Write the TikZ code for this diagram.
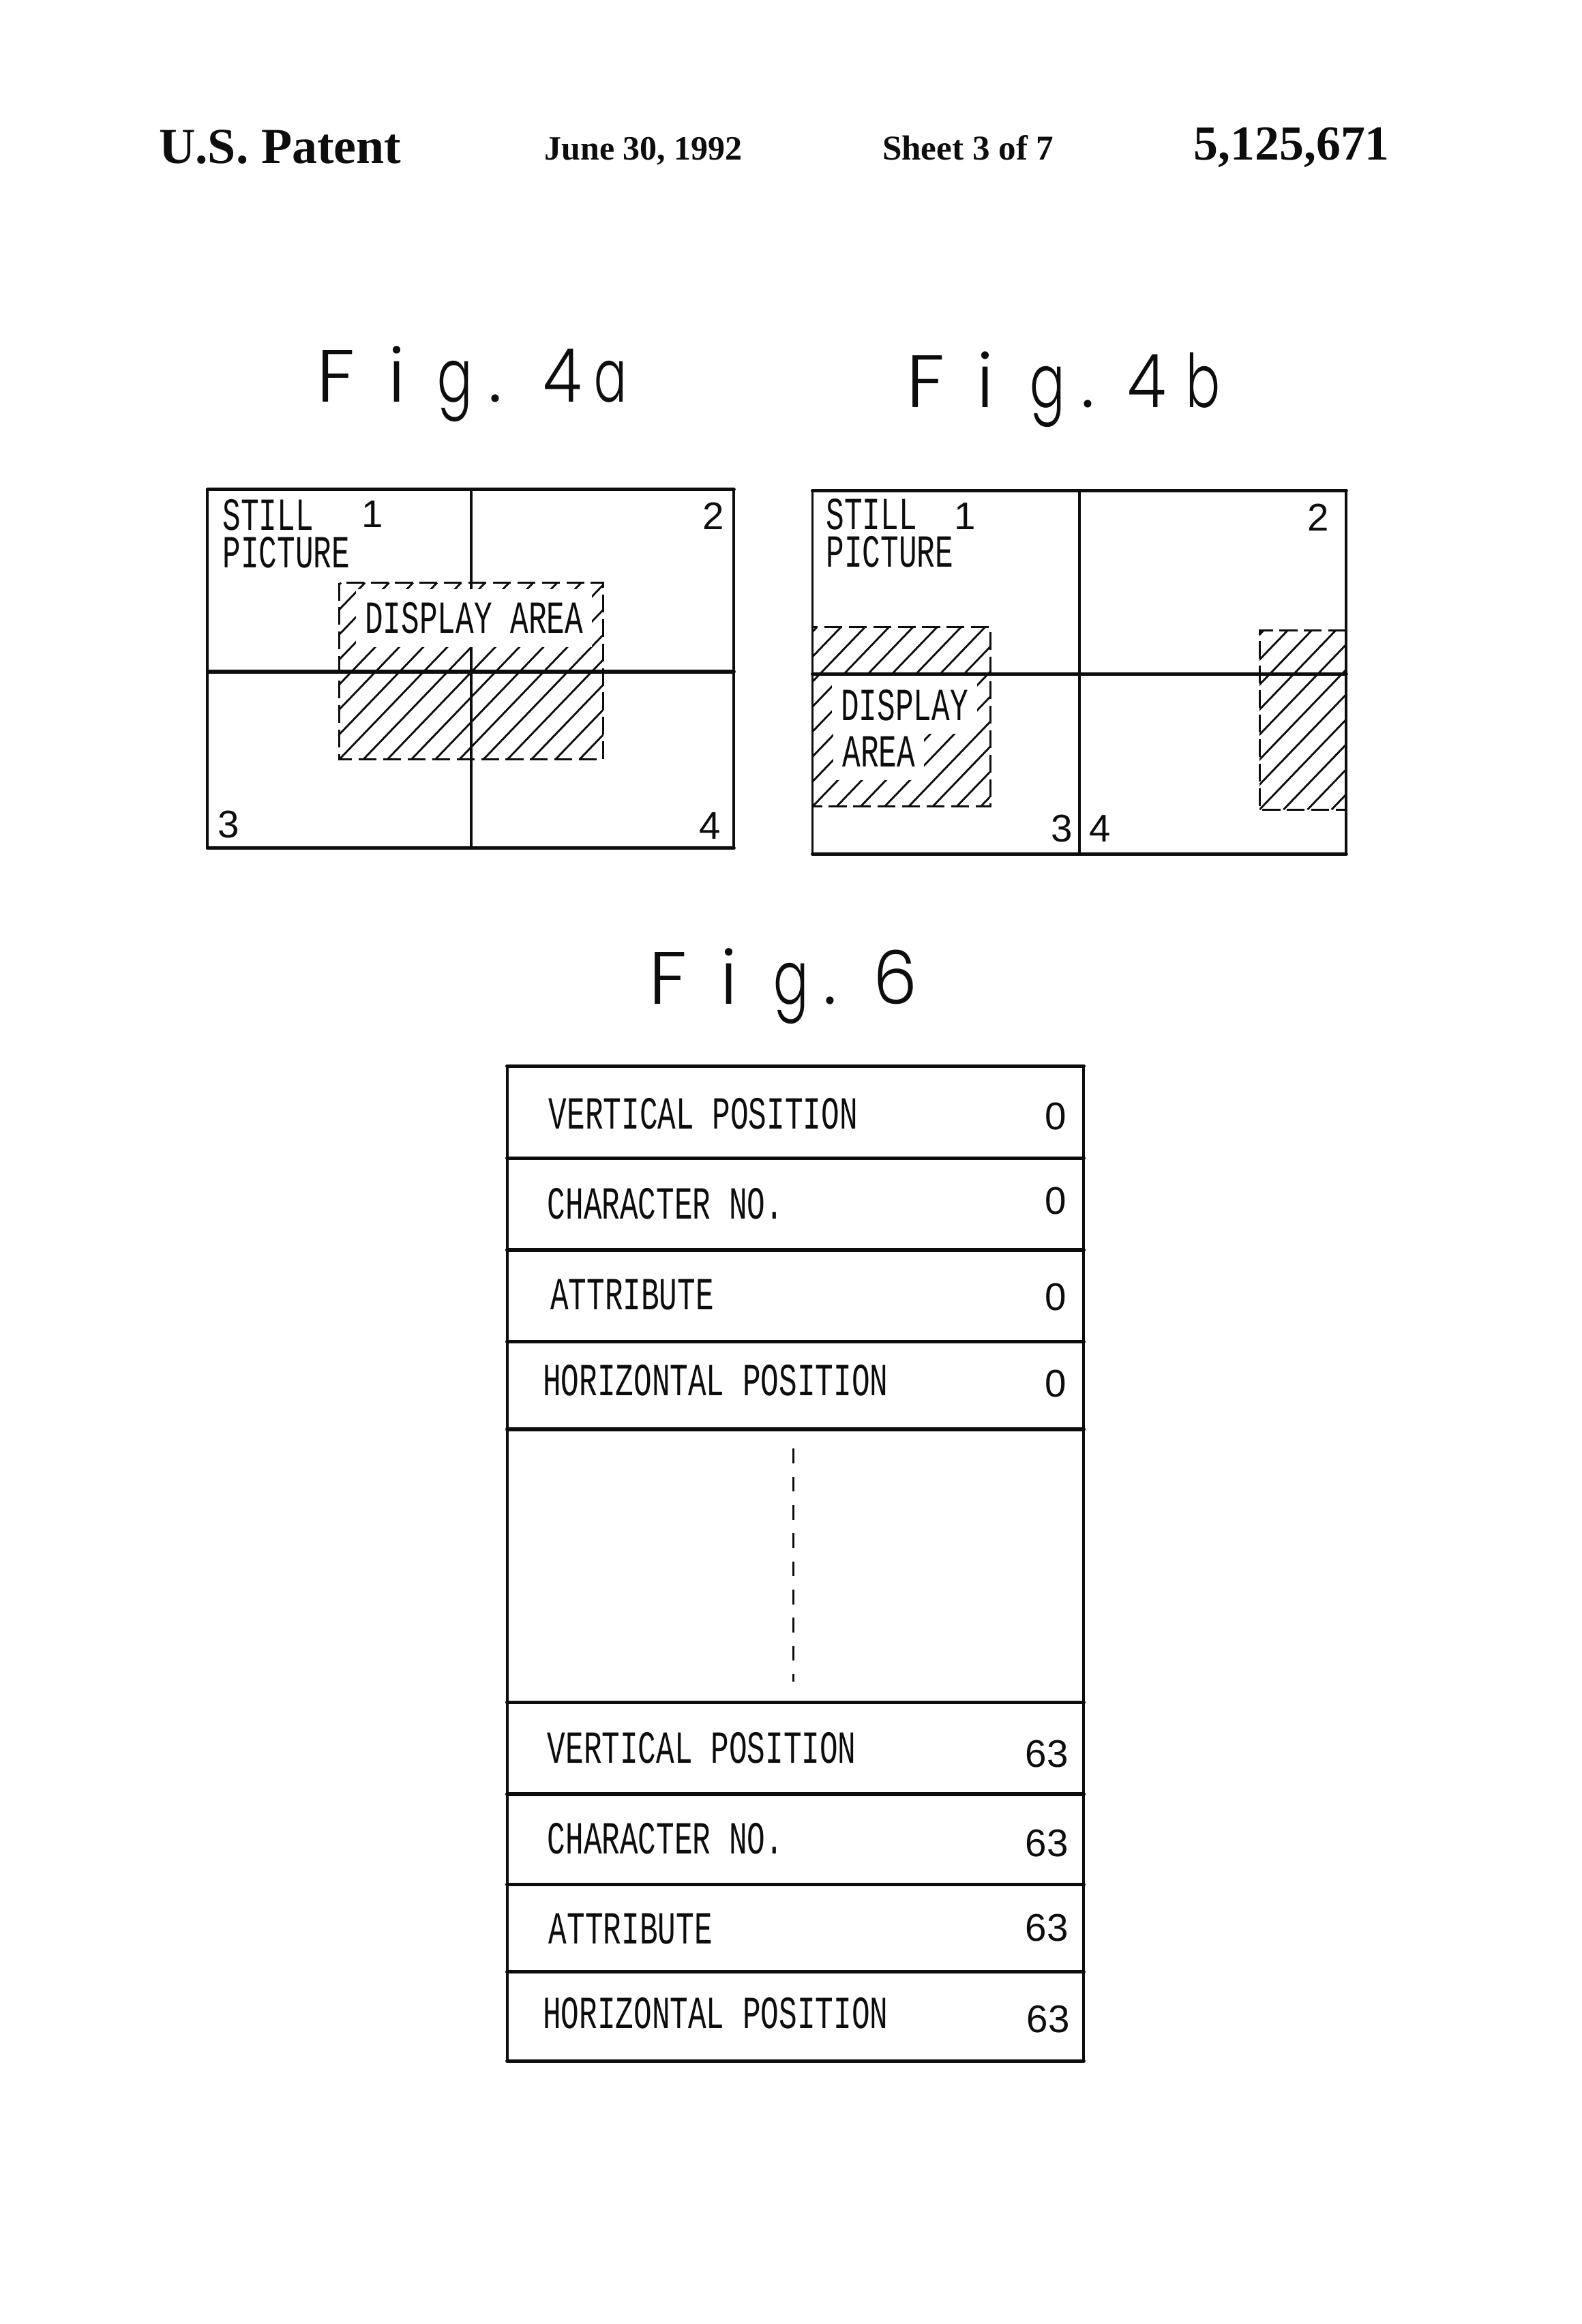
\documentclass[tikz,border=0pt]{standalone}
\usepackage{fontspec}
\setmainfont{Liberation Serif}
\newfontfamily\lettering[FakeStretch=0.6586]{Liberation Mono}
\newfontfamily\figfont[UprightFont={* Light}]{Poppins}
\newfontfamily\numfont{Liberation Sans}
\definecolor{inkc}{gray}{0.05}
\tikzset{
  x=1pt,y=-1pt,
  outer/.style={line width=2.4pt,line cap=round,line join=round,color=inkc},
  inner/.style={line width=1.8pt,line cap=round,line join=round,color=inkc},
  hatchln/.style={line width=1.3pt,color=inkc},
  dashbox/.style={line width=1.4pt,color=inkc,dash pattern=on 12pt off 4.5pt},
  lab/.style={font=\lettering\fontsize{31}{31}\selectfont,anchor=west,inner sep=0pt,color=inkc},
  twolab/.style={font=\lettering\fontsize{31}{25.5}\selectfont,anchor=west,align=left,inner sep=0pt,color=inkc},
  masklab/.style={lab,fill=white,inner xsep=6pt,inner ysep=9pt},
  num/.style={font=\numfont\fontsize{26}{26}\selectfont,inner sep=0pt,color=inkc},
  figt/.style={font=\figfont\fontsize{50}{50}\selectfont,anchor=base west,inner sep=0pt,color=inkc},
  hdr/.style={anchor=base west,inner sep=0pt,color=inkc,font=\bfseries\fontsize{#1}{#1}\selectfont},
}
\newcommand{\fch}[3]{\rlap{\hspace{#1pt}\makebox[0pt]{\scalebox{#2}[1]{#3}}}}
\newcommand{\hatchbox}[4]{%
  \begin{scope}
    \clip (#1,#2) rectangle (#3,#4);
    \foreach \i in {-12,...,16} {
      \draw[hatchln] ({#1+\i*16.2},#4) -- ({#1+\i*16.2+(#4-#2)/1.04},#2);
    }
  \end{scope}
}
\begin{document}
\begin{tikzpicture}
\useasboundingbox[fill=white] (0,0) rectangle (1067,1567.4);

% header
\node[hdr=34] (h1) at (107,110) {U.S. Patent};
\node[hdr=23] (h2) at (367,108) {June 30, 1992};
\node[hdr=23.5] (h3) at (595,108) {Sheet 3 of 7};
\node[hdr=33] (h4) at (805,108) {5,125,671};

% figure titles
\node[figt] (t4a) at (226,271) {\fch{0}{1.05}{F}\fch{41}{1}{i}\fch{80}{.7}{g}\fch{107.6}{1}{.}\fch{152.5}{.85}{4}\fch{185}{.65}{a}};
\node[figt] (t4b) at (623.5,275) {\fch{0}{1.05}{F}\fch{40.5}{1}{i}\fch{82.5}{.7}{g}\fch{109.5}{1}{.}\fch{149.5}{.85}{4}\fch{187.5}{.68}{b}};
\node[figt] (t6) at (450,677) {\fch{0}{1.05}{F}\fch{41}{1}{i}\fch{83}{.7}{g}\fch{109}{1}{.}\fch{153}{.95}{6}};

% Fig 4a
\hatchbox{229}{393}{407}{512}
\draw[dashbox] (229,393) rectangle (407,512);
\draw[inner] (140,330) rectangle (495,572);
\draw[outer] (140,330) -- (495,330) (140,572) -- (495,572);
\draw[inner] (318,330) -- (318,572);
\draw[outer] (140,453) -- (495,453);
\node[masklab] (a5) at (240,417) {DISPLAY AREA};
\node[twolab] (a1) at (150,360) {STILL\\PICTURE};
\node[num] (a3) at (251,347) {1};
\node[num] (a4) at (481,348) {2};
\node[num] (a6) at (154,556) {3};
\node[num] (a7) at (479,557) {4};

% Fig 4b
\hatchbox{548}{423}{668}{544}
\draw[dashbox] (548,423) rectangle (668,544);
\hatchbox{849.5}{425}{908}{546}
\draw[dashbox] (908,425) -- (849.5,425) -- (849.5,546) -- (908,546);
\draw[inner] (548,331) rectangle (908,576);
\draw[outer] (548,331) -- (908,331) (548,576) -- (908,576);
\draw[inner] (728,331) -- (728,576);
\draw[outer] (548,454.5) -- (908,454.5);
\node[masklab] (b5) at (561,475.5) {DISPLAY};
\node[masklab] (b6) at (562,507) {AREA};
\node[twolab] (b1) at (557,359.5) {STILL\\PICTURE};
\node[num] (b3) at (651,348) {1};
\node[num] (b4) at (889,349) {2};
\node[num] (b7) at (716,559) {3};
\node[num] (b8) at (742,559) {4};

% Fig 6
\draw[inner] (342,719) rectangle (731,1390);
\draw[outer] (342,719) -- (731,719) (342,1390) -- (731,1390);
\foreach \y in {781,843,905,964,1148,1210,1271,1330} {
  \draw[outer] (342,\y) -- (731,\y);
}
\draw[hatchln,dash pattern=on 10pt off 9pt] (535,977) -- (535,1134);
\node[lab] (c1) at (370,751) {VERTICAL POSITION};
\node[lab] (c2) at (369,812) {CHARACTER NO.};
\node[lab] (c3) at (371,873) {ATTRIBUTE};
\node[lab] (c4) at (366,931) {HORIZONTAL POSITION};
\node[lab] (c5) at (369,1179) {VERTICAL POSITION};
\node[lab] (c6) at (369,1240) {CHARACTER NO.};
\node[lab] (c7) at (370,1301) {ATTRIBUTE};
\node[lab] (c8) at (366,1358) {HORIZONTAL POSITION};
\node[num] (n1) at (712,753) {0};
\node[num] (n2) at (712,810) {0};
\node[num] (n3) at (712,875) {0};
\node[num] (n4) at (712,933) {0};
\node[num] (n5) at (706,1183) {63};
\node[num] (n6) at (706,1243) {63};
\node[num] (n7) at (706,1300) {63};
\node[num] (n8) at (707,1362) {63};
\end{tikzpicture}
\end{document}
